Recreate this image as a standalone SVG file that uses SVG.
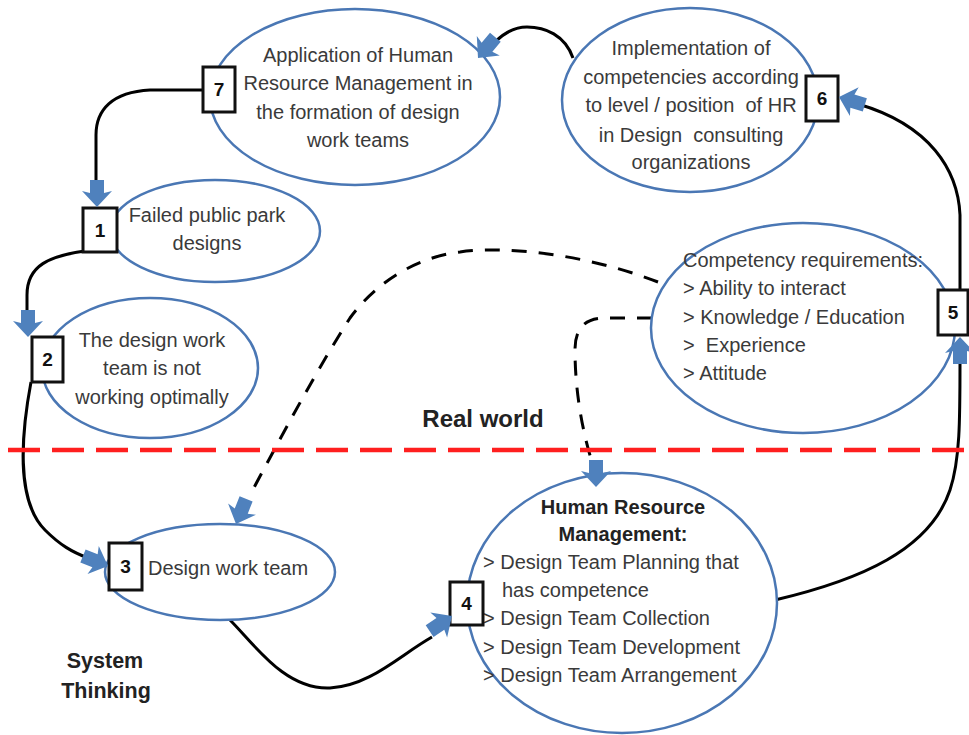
<svg xmlns="http://www.w3.org/2000/svg" xmlns:xlink="http://www.w3.org/1999/xlink" width="969" height="735" viewBox="0 0 969 735">
<style>
.ell{fill:#fff;stroke:#4a77b4;stroke-width:2.5}
.box{fill:#fff;stroke:#111;stroke-width:3}
.num{font-family:"Liberation Sans",Arial,sans-serif;font-size:19px;font-weight:bold;fill:#111;text-anchor:middle}
.t{font-family:"Liberation Sans",Arial,sans-serif;font-size:20px;fill:#3a3a3a}
.c{text-anchor:middle}
.b{font-weight:bold;fill:#222}
.lg{font-size:24px}
.md{font-size:21.5px}
.con{fill:none;stroke:#000;stroke-width:3}
.dash{fill:none;stroke:#000;stroke-width:3;stroke-dasharray:15 12}
.arr{fill:#4f81bd}
</style>
<defs>
<path id="ah" class="arr" d="M0,0 L-16,-15 L-14,-7 L-27,-7 L-27,7 L-14,7 L-16,15 Z"/>
</defs>

<g id="connectors">
<path class="con" d="M573,58 C565,35 545,27 527,27 C515,27 505,32 495,42"/>
<path class="con" d="M203,90 L150,90 C112,92 96,110 96,135 L96,185"/>
<path class="con" d="M85,251 C50,256 27,265 27,295 L27,315"/>
<path class="con" d="M31,382 C22,430 15,500 45,530 C60,545 72,552 88,558"/>
<path class="con" d="M230,620 C255,645 285,690 330,688 C370,686 400,655 432,637"/>
<path class="con" d="M775,600 C860,580 930,550 950,490 C960,460 960,420 960,362"/>
<path class="con" d="M960,290 L960,215 C958,170 930,125 858,104"/>
<path class="dash" d="M658,282 C580,252 500,246 460,252 C410,258 372,288 350,318 C320,365 290,420 250,495"/>
<path class="dash" d="M652,318 L605,318 C585,318 575,328 575,350 C575,390 582,430 592,462"/>
</g>

<line x1="8" y1="450" x2="969" y2="450" stroke="#ff1f1f" stroke-width="4.5" stroke-dasharray="32 12"/>

<g id="n7">
<ellipse class="ell" cx="355" cy="97" rx="145" ry="88"/>
<text class="t c" x="358" y="62">Application of Human</text>
<text class="t c" x="358" y="90">Resource Management in</text>
<text class="t c" x="358" y="119">the formation of design</text>
<text class="t c" x="358" y="147">work teams</text>
<rect class="box" x="203" y="67" width="32" height="45"/>
<text class="num" x="219" y="96">7</text>
</g>

<g id="n6">
<ellipse class="ell" cx="690" cy="100" rx="128" ry="92"/>
<text class="t c" x="691" y="55">Implementation of</text>
<text class="t c" x="691" y="84">competencies according</text>
<text class="t c" x="691" y="112" xml:space="preserve">to level / position  of HR</text>
<text class="t c" x="691" y="142" xml:space="preserve">in Design  consulting</text>
<text class="t c" x="691" y="169">organizations</text>
<rect class="box" x="806" y="76" width="32" height="45"/>
<text class="num" x="822" y="105">6</text>
</g>

<g id="n1">
<ellipse class="ell" cx="215" cy="231" rx="105" ry="51"/>
<text class="t c" x="207" y="222">Failed public park</text>
<text class="t c" x="207" y="250">designs</text>
<rect class="box" x="83" y="208" width="34" height="44"/>
<text class="num" x="100" y="237">1</text>
</g>

<g id="n2">
<ellipse class="ell" cx="150" cy="368" rx="108" ry="70"/>
<text class="t c" x="152" y="347">The design work</text>
<text class="t c" x="152" y="375">team is not</text>
<text class="t c" x="152" y="404">working optimally</text>
<rect class="box" x="32" y="337" width="31" height="45"/>
<text class="num" x="47.5" y="366">2</text>
</g>

<g id="n5">
<ellipse class="ell" cx="803" cy="328" rx="152" ry="105"/>
<text class="t" x="683" y="267">Competency requirements:</text>
<text class="t" x="683" y="295">&gt; Ability to interact</text>
<text class="t" x="683" y="324">&gt; Knowledge / Education</text>
<text class="t" x="683" y="352" xml:space="preserve">&gt;  Experience</text>
<text class="t" x="683" y="380">&gt; Attitude</text>
<rect class="box" x="938" y="290" width="30" height="45"/>
<text class="num" x="953" y="319">5</text>
</g>

<g id="n3">
<ellipse class="ell" cx="220" cy="572" rx="115" ry="48"/>
<text class="t" x="148" y="575">Design work team</text>
<rect class="box" x="109" y="543" width="33" height="47"/>
<text class="num" x="125.5" y="573">3</text>
</g>

<g id="n4">
<ellipse class="ell" cx="622" cy="603" rx="155" ry="130"/>
<text class="t c b" x="623" y="514">Human Resource</text>
<text class="t c b" x="623" y="541">Management:</text>
<text class="t" x="483" y="569">&gt; Design Team Planning that</text>
<text class="t" x="502" y="597">has competence</text>
<text class="t" x="483" y="625">&gt; Design Team Collection</text>
<text class="t" x="483" y="654">&gt; Design Team Development</text>
<text class="t" x="483" y="682">&gt; Design Team Arrangement</text>
<rect class="box" x="450" y="582" width="33" height="43"/>
<text class="num" x="466.5" y="610">4</text>
</g>

<g id="arrowheads">
<use xlink:href="#ah" transform="translate(478,58) rotate(130)"/>
<use xlink:href="#ah" transform="translate(97,207) rotate(90)"/>
<use xlink:href="#ah" transform="translate(28,337) rotate(90)"/>
<use xlink:href="#ah" transform="translate(108,566) rotate(22)"/>
<use xlink:href="#ah" transform="translate(452,616) rotate(-34)"/>
<use xlink:href="#ah" transform="translate(960,337) rotate(-90)"/>
<use xlink:href="#ah" transform="translate(839,97) rotate(197)"/>
<use xlink:href="#ah" transform="translate(596,487) rotate(90)"/>
<use xlink:href="#ah" transform="translate(236,524) rotate(112)"/>
</g>

<g id="labels">
<text class="t b c lg" x="483" y="427">Real world</text>
<text class="t b c md" x="105" y="668">System</text>
<text class="t b c md" x="106" y="698">Thinking</text>
</g>
</svg>
